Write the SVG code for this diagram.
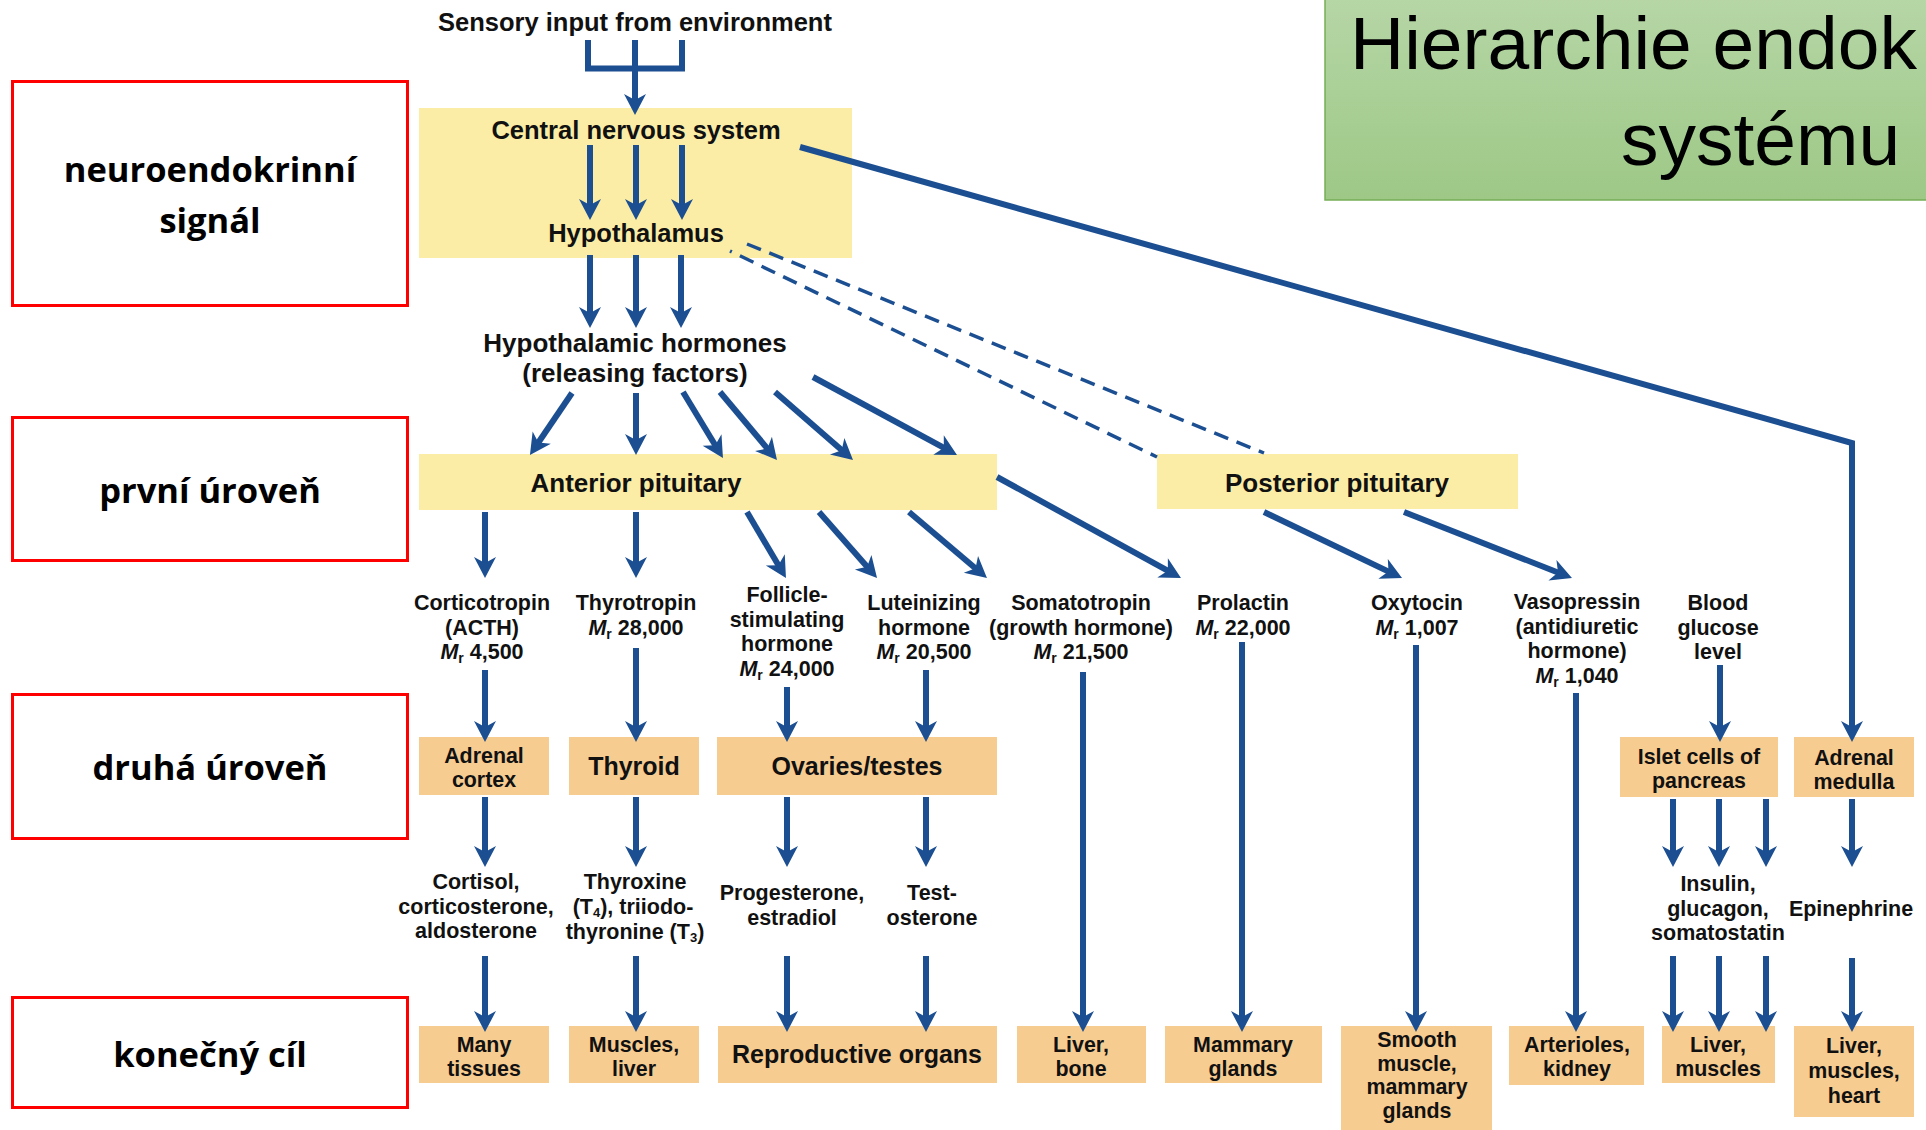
<svg xmlns="http://www.w3.org/2000/svg" width="1926" height="1130" viewBox="0 0 1926 1130">
<defs>
<linearGradient id="gTitle" x1="0" y1="0" x2="0" y2="1">
<stop offset="0" stop-color="#b6d6a6"/>
<stop offset="1" stop-color="#9dc886"/>
</linearGradient>
<marker id="ah" markerUnits="userSpaceOnUse" orient="auto" overflow="visible" refX="0" refY="0" markerWidth="30" markerHeight="30">
<path d="M9,0 L-12,-11 L-6,0 L-12,11 Z" fill="#1c4f92"/>
</marker>
<style>
text{font-family:"Liberation Sans",Arial,sans-serif;font-weight:700;fill:#111;text-anchor:middle}
.m{font-size:25.5px}
.h{font-size:26px}
.one{font-size:25px}
.bb{font-size:21.4px}
.s{font-size:21.5px}
.red{font-family:"Open Sans","Liberation Sans",sans-serif;font-size:34.5px;fill:#000}
.title{font-family:"Liberation Sans",Arial,sans-serif;font-size:75px;font-weight:400;text-anchor:start;fill:#000}
.lab{fill:#fff;stroke:#ff0000;stroke-width:3}
.yel{fill:#fbeda6}
.tan{fill:#f7cc91}
.c{stroke:#1c4f92;stroke-width:6;fill:none}
.a{marker-end:url(#ah)}
.d{stroke:#1c4f92;stroke-width:3.5;fill:none;stroke-dasharray:15 9}
.sub{font-size:14px}
.sub2{font-size:13px}
.it{font-style:italic}
</style>
</defs>
<rect width="1926" height="1130" fill="#fff"/>

<g id="title">
<rect x="1325" y="-2" width="610" height="202" fill="url(#gTitle)" stroke="#76ae56" stroke-width="1.5"/>
<text class="title" x="1350" y="69">Hierarchie endok<tspan x="1621" y="165">systému</tspan></text>
</g>

<g id="lbl-neuro"><rect class="lab" x="12.5" y="81.5" width="395" height="224"/>
<text class="red" x="210" y="182">neuroendokrinní<tspan x="210" dy="51">signál</tspan></text></g>
<g id="lbl-prvni"><rect class="lab" x="12.5" y="417.5" width="395" height="143"/>
<text class="red" x="210" y="503">první úroveň</text></g>
<g id="lbl-druha"><rect class="lab" x="12.5" y="694.5" width="395" height="144"/>
<text class="red" x="210" y="780">druhá úroveň</text></g>
<g id="lbl-konecny"><rect class="lab" x="12.5" y="997.5" width="395" height="110"/>
<text class="red" x="210" y="1067">konečný cíl</text></g>

<g id="sensory"><text class="m" x="635" y="31">Sensory input from environment</text></g>
<g id="cns"><rect class="yel" x="419" y="108" width="433" height="150"/>
<text class="m" x="636" y="139">Central nervous system</text></g>
<g id="hypothalamus"><text class="m" x="636" y="242">Hypothalamus</text></g>
<g id="hyp-hormones"><text class="h" x="635" y="352">Hypothalamic hormones<tspan x="635" dy="30">(releasing factors)</tspan></text></g>
<g id="anterior"><rect class="yel" x="419" y="454" width="578" height="56"/><text class="h" x="636" y="492">Anterior pituitary</text></g>
<g id="posterior"><rect class="yel" x="1157" y="454" width="361" height="55"/><text class="h" x="1337" y="492">Posterior pituitary</text></g>

<g id="h-acth"><text class="s" x="482" y="610">Corticotropin<tspan x="482" dy="24.5">(ACTH)</tspan><tspan x="482" dy="24.5"><tspan class="it">M</tspan><tspan class="sub" dy="4">r</tspan><tspan dy="-4"> 4,500</tspan></tspan></text></g>
<g id="h-tsh"><text class="s" x="636" y="610">Thyrotropin<tspan x="636" dy="24.5"><tspan class="it">M</tspan><tspan class="sub" dy="4">r</tspan><tspan dy="-4"> 28,000</tspan></tspan></text></g>
<g id="h-fsh"><text class="s" x="787" y="602">Follicle-<tspan x="787" dy="24.5">stimulating</tspan><tspan x="787" dy="24.5">hormone</tspan><tspan x="787" dy="24.5"><tspan class="it">M</tspan><tspan class="sub" dy="4">r</tspan><tspan dy="-4"> 24,000</tspan></tspan></text></g>
<g id="h-lh"><text class="s" x="924" y="610">Luteinizing<tspan x="924" dy="24.5">hormone</tspan><tspan x="924" dy="24.5"><tspan class="it">M</tspan><tspan class="sub" dy="4">r</tspan><tspan dy="-4"> 20,500</tspan></tspan></text></g>
<g id="h-gh"><text class="s" x="1081" y="610">Somatotropin<tspan x="1081" dy="24.5">(growth hormone)</tspan><tspan x="1081" dy="24.5"><tspan class="it">M</tspan><tspan class="sub" dy="4">r</tspan><tspan dy="-4"> 21,500</tspan></tspan></text></g>
<g id="h-prl"><text class="s" x="1243" y="610">Prolactin<tspan x="1243" dy="24.5"><tspan class="it">M</tspan><tspan class="sub" dy="4">r</tspan><tspan dy="-4"> 22,000</tspan></tspan></text></g>
<g id="h-oxy"><text class="s" x="1417" y="610">Oxytocin<tspan x="1417" dy="24.5"><tspan class="it">M</tspan><tspan class="sub" dy="4">r</tspan><tspan dy="-4"> 1,007</tspan></tspan></text></g>
<g id="h-vaso"><text class="s" x="1577" y="609">Vasopressin<tspan x="1577" dy="24.5">(antidiuretic</tspan><tspan x="1577" dy="24.5">hormone)</tspan><tspan x="1577" dy="24.5"><tspan class="it">M</tspan><tspan class="sub" dy="4">r</tspan><tspan dy="-4"> 1,040</tspan></tspan></text></g>
<g id="glucose"><text class="s" x="1718" y="610">Blood<tspan x="1718" dy="24.5">glucose</tspan><tspan x="1718" dy="24.5">level</tspan></text></g>

<g id="adrenal-cortex"><rect class="tan" x="419" y="737" width="130" height="58"/><text class="bb" x="484" y="763">Adrenal<tspan x="484" dy="24">cortex</tspan></text></g>
<g id="thyroid"><rect class="tan" x="569" y="737" width="130" height="58"/><text class="one" x="634" y="775">Thyroid</text></g>
<g id="gonads"><rect class="tan" x="717" y="737" width="280" height="58"/><text class="one" x="857" y="775">Ovaries/testes</text></g>
<g id="islets"><rect class="tan" x="1620" y="737" width="158" height="60"/><text class="bb" x="1699" y="764">Islet cells of<tspan x="1699" dy="24">pancreas</tspan></text></g>
<g id="adrenal-medulla"><rect class="tan" x="1794" y="737" width="120" height="60"/><text class="bb" x="1854" y="765">Adrenal<tspan x="1854" dy="24">medulla</tspan></text></g>

<g id="cortisol"><text class="s" x="476" y="889">Cortisol,<tspan x="476" dy="24.5">corticosterone,</tspan><tspan x="476" dy="24.5">aldosterone</tspan></text></g>
<g id="thyroxine"><text class="s" x="635" y="889">Thyroxine<tspan x="633" dy="25">(T<tspan class="sub2" dy="2.5">4</tspan><tspan dy="-2.5">), triiodo-</tspan></tspan><tspan x="635" dy="25">thyronine (T<tspan class="sub2" dy="2.5">3</tspan><tspan dy="-2.5">)</tspan></tspan></text></g>
<g id="progesterone"><text class="s" x="792" y="900">Progesterone,<tspan x="792" dy="24.5">estradiol</tspan></text></g>
<g id="testosterone"><text class="s" x="932" y="900">Test-<tspan x="932" dy="24.5">osterone</tspan></text></g>
<g id="insulin"><text class="s" x="1718" y="891">Insulin,<tspan x="1718" dy="24.5">glucagon,</tspan><tspan x="1718" dy="24.5">somatostatin</tspan></text></g>
<g id="epinephrine"><text class="s" x="1851" y="915.5">Epinephrine</text></g>

<g id="t-many"><rect class="tan" x="419" y="1026" width="130" height="57"/><text class="bb" x="484" y="1052">Many<tspan x="484" dy="24">tissues</tspan></text></g>
<g id="t-muscles-liver"><rect class="tan" x="569" y="1026" width="130" height="57"/><text class="bb" x="634" y="1052">Muscles,<tspan x="634" dy="24">liver</tspan></text></g>
<g id="t-repro"><rect class="tan" x="718" y="1026" width="279" height="57"/><text class="one" x="857" y="1063">Reproductive organs</text></g>
<g id="t-liver-bone"><rect class="tan" x="1017" y="1026" width="129" height="57"/><text class="bb" x="1081" y="1052">Liver,<tspan x="1081" dy="24">bone</tspan></text></g>
<g id="t-mammary"><rect class="tan" x="1165" y="1026" width="157" height="57"/><text class="bb" x="1243" y="1052">Mammary<tspan x="1243" dy="24">glands</tspan></text></g>
<g id="t-smooth"><rect class="tan" x="1341" y="1026" width="151" height="104"/><text class="bb" x="1417" y="1047" font-size="21">Smooth<tspan x="1417" dy="23.5">muscle,</tspan><tspan x="1417" dy="23.5">mammary</tspan><tspan x="1417" dy="23.5">glands</tspan></text></g>
<g id="t-arterioles"><rect class="tan" x="1509" y="1026" width="135" height="59"/><text class="bb" x="1577" y="1052">Arterioles,<tspan x="1577" dy="24">kidney</tspan></text></g>
<g id="t-liver-muscles"><rect class="tan" x="1662" y="1026" width="113" height="57"/><text class="bb" x="1718" y="1052">Liver,<tspan x="1718" dy="24">muscles</tspan></text></g>
<g id="t-heart"><rect class="tan" x="1794" y="1026" width="120" height="91"/><text class="bb" x="1854" y="1053" font-size="22">Liver,<tspan x="1854" dy="25">muscles,</tspan><tspan x="1854" dy="25">heart</tspan></text></g>

<g id="connectors">
<path class="c" d="M588,40 V68.5 H682 V40" stroke-linejoin="miter"/>
<path class="c a" d="M635,40 V106"/>
<path class="c a" d="M590,145 V211"/>
<path class="c a" d="M636,145 V211"/>
<path class="c a" d="M682,145 V211"/>
<path class="c a" d="M590,255 V319"/>
<path class="c a" d="M636,255 V319"/>
<path class="c a" d="M681,255 V319"/>
<path class="d" d="M747,244 L1264,453"/>
<path class="d" d="M730,251 L1157,457" stroke-dashoffset="13"/>
<path class="c a" d="M800,147 L1852,443 V733"/>
<path class="c a" d="M572,393 L535,447.5"/>
<path class="c a" d="M636,393 V446"/>
<path class="c a" d="M683,392 L718.3,450.3"/>
<path class="c a" d="M720,392 L771.2,453.1"/>
<path class="c a" d="M775,392 L846.2,454.1"/>
<path class="c a" d="M813,377 L949.1,450.7"/>
<path class="c a" d="M485,512 V569"/>
<path class="c a" d="M636,512 V569"/>
<path class="c a" d="M747,512 L781.4,570.3"/>
<path class="c a" d="M819,512 L871.1,571.2"/>
<path class="c a" d="M909,512 L980.1,572.2"/>
<path class="c a" d="M997,477 L1173.1,573.7"/>
<path class="c a" d="M1264,512 L1393.9,574.1"/>
<path class="c a" d="M1404,512 L1563.6,574.7"/>
<path class="c a" d="M485,670 V733"/>
<path class="c a" d="M636,648 V733"/>
<path class="c a" d="M787,687 V733"/>
<path class="c a" d="M926,670 V733"/>
<path class="c a" d="M1720,665 V733"/>
<path class="c a" d="M1083,672 V1023"/>
<path class="c a" d="M1242,642 V1023"/>
<path class="c a" d="M1416,645 V1023"/>
<path class="c a" d="M1576,693 V1023"/>
<path class="c a" d="M485,797 V858"/>
<path class="c a" d="M636,797 V858"/>
<path class="c a" d="M787,797 V858"/>
<path class="c a" d="M926,797 V858"/>
<path class="c a" d="M1673,799 V858"/>
<path class="c a" d="M1719,799 V858"/>
<path class="c a" d="M1766,799 V858"/>
<path class="c a" d="M1852,799 V858"/>
<path class="c a" d="M485,956 V1023"/>
<path class="c a" d="M636,956 V1023"/>
<path class="c a" d="M787,956 V1023"/>
<path class="c a" d="M926,956 V1023"/>
<path class="c a" d="M1673,956 V1023"/>
<path class="c a" d="M1719,956 V1023"/>
<path class="c a" d="M1766,956 V1023"/>
<path class="c a" d="M1852,958 V1023"/>
</g>
</svg>
